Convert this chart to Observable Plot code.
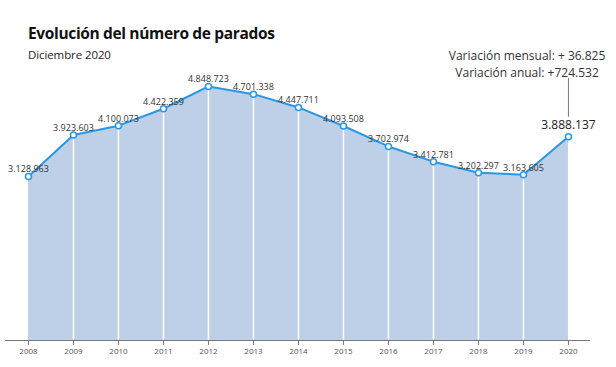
<!DOCTYPE html>
<html><head><meta charset="utf-8">
<script src="https://cdn.jsdelivr.net/npm/d3@7"></script>
<script src="https://cdn.jsdelivr.net/npm/@observablehq/plot@0.6"></script>
<style>
body{margin:0;background:#fff;}
#wrap{position:relative;width:616px;height:367px;}
#title{position:absolute;left:28px;top:26px;line-height:1;font-family:"Open Sans",sans-serif;font-weight:700;font-size:15.5px;color:#111;letter-spacing:-0.35px;}
#sub{position:absolute;left:28px;top:49px;line-height:1;font-family:"Open Sans",sans-serif;font-size:11.5px;color:#222;letter-spacing:-0.1px;}
</style></head>
<body>
<div id="wrap">
<div id="chart"></div>
<div id="title">Evolución del número de parados</div>
<div id="sub">Diciembre 2020</div>
</div>
<script>
const years = [2008,2009,2010,2011,2012,2013,2014,2015,2016,2017,2018,2019,2020];
const values = [3128963,3923603,4100073,4422359,4848723,4701338,4447711,4093508,3702974,3412781,3202297,3163605,3888137];
const annotation = ["Variación mensual: + 36.825","Variación anual: +724.532"];

const loc = d3.formatLocale({decimal:",", thousands:".", grouping:[3], currency:["","€"]});
const fmt = loc.format(",d");
const data = years.map((y,i)=>({year:y, value:values[i], label:fmt(values[i])}));
const last = data[data.length-1];
const inner = data.slice(1, -1);

const font = '"Open Sans", sans-serif';
const chart = Plot.plot({
  width:616, height:367,
  marginLeft:5, marginRight:26, marginTop:78, marginBottom:27,
  style:{fontFamily:font, background:"#fff"},
  x:{type:"linear", domain:[2007.49,2020.49]},
  y:{type:"linear", domain:[0,5000000], axis:null},
  marks:[
    Plot.areaY(data,{x:"year", y:"value", fill:"#bdd0e8"}),
    Plot.ruleX(inner,{x:"year", y1:0, y2:"value", stroke:"#fff", strokeWidth:1.5}),
    Plot.line(data,{x:"year", y:"value", stroke:"#2a97e6", strokeWidth:2}),
    Plot.dot(data,{x:"year", y:"value", r:3, fill:"#fff", stroke:"#2a97e6", strokeWidth:1.5}),
    Plot.text(data.slice(0,-1),{x:"year", y:"value", text:"label", dy:-7, fontSize:9, fill:"#333"}),
    Plot.text([last],{x:"year", y:"value", text:"label", dy:-12, fontSize:12, fill:"#222"}),
    Plot.ruleX([last],{x:"year", y1:5000000, y2:4260000, stroke:"#777", strokeWidth:1}),
    Plot.text([annotation[0]],{x:2019.08, y:5000000, text:d=>d, dy:-22, fontSize:12, fill:"#333"}),
    Plot.text([annotation[1]],{x:2019.08, y:5000000, text:d=>d, dy:-5, fontSize:12, fill:"#333"}),
    Plot.ruleY([0],{stroke:"#777"}),
    Plot.axisX({ticks:years, tickFormat:d=>String(d), tickSize:5, tickPadding:3, fontSize:8, stroke:"#777", color:"#555", label:null})
  ]
});
document.getElementById("chart").appendChild(chart);
</script>
</body></html>
